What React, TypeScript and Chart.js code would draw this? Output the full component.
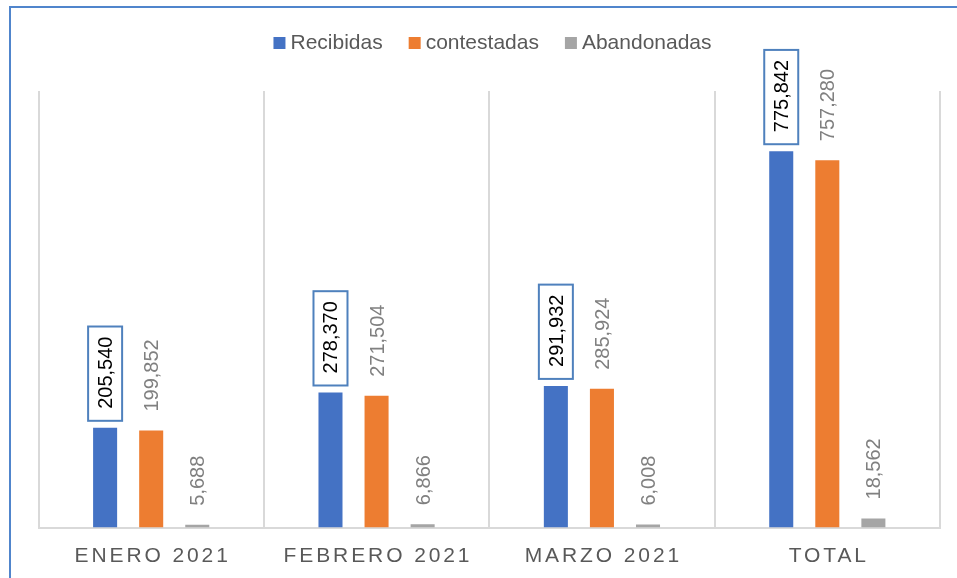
import React, { useEffect, useRef } from 'react';
import { Chart, registerables } from 'chart.js';

Chart.register(...registerables);

const categories = ['ENERO 2021', 'FEBRERO 2021', 'MARZO 2021', 'TOTAL'];
const seriesNames = ['Recibidas', 'contestadas', 'Abandonadas'];
const recibidas = [205540, 278370, 291932, 775842];
const contestadas = [199852, 271504, 285924, 757280];
const abandonadas = [5688, 6866, 6008, 18562];
const seriesColors = ['#4472C4', '#ED7D31', '#A5A5A5'];
const yMax = 900000;

const FONT = '"Liberation Sans", Arial, sans-serif';
const fmt = (v: number) => v.toLocaleString('en-US');

const tweaks = {
  id: 'tweaks',
  beforeLayout(chart: any) {
    const lg = chart.legend;
    if (lg && !lg.__patched) {
      lg.__patched = true;
      const origFit = lg.fit.bind(lg);
      lg.fit = function () {
        origFit();
        this.height = 90;
      };
      const origDraw = lg.draw.bind(lg);
      lg.draw = function (...args: any[]) {
        const ctx = this.ctx;
        ctx.save();
        ctx.translate(6, 0);
        origDraw(...args);
        ctx.restore();
      };
    }
  },
  afterDatasetsDraw(chart: any) {
    const ctx = chart.ctx;
    ctx.save();
    ctx.font = `20px ${FONT}`;
    chart.data.datasets.forEach((ds: any, di: number) => {
      const meta = chart.getDatasetMeta(di);
      meta.data.forEach((bar: any, i: number) => {
        const text = fmt(ds.data[i]);
        const L = ctx.measureText(text).width;
        const ty = bar.y - 19;
        if (di === 0) {
          ctx.save();
          ctx.fillStyle = '#FFFFFF';
          ctx.strokeStyle = '#4F81BD';
          ctx.lineWidth = 2;
          const top = ty - L - 10;
          const bottom = ty + 12;
          ctx.fillRect(bar.x - 17, top, 34, bottom - top);
          ctx.strokeRect(bar.x - 17, top, 34, bottom - top);
          ctx.restore();
        }
        ctx.save();
        ctx.translate(bar.x + 7, ty);
        ctx.rotate(-Math.PI / 2);
        ctx.fillStyle = di === 0 ? '#000000' : '#808080';
        ctx.textAlign = 'left';
        ctx.textBaseline = 'alphabetic';
        ctx.fillText(text, 0, 0);
        ctx.restore();
      });
    });
    ctx.restore();
  },
  afterDraw(chart: any) {
    const xs = chart.scales.x;
    const ctx = chart.ctx;
    ctx.save();
    ctx.font = `21px ${FONT}`;
    ctx.fillStyle = '#595959';
    ctx.textAlign = 'center';
    ctx.textBaseline = 'alphabetic';
    (ctx as any).letterSpacing = '2.9px';
    categories.forEach((c, i) => {
      const x = xs.getPixelForTick(i);
      ctx.fillText(c, x + 1.45, chart.chartArea.bottom + 34);
    });
    ctx.restore();
  },
};

export default function App() {
  const ref = useRef<HTMLCanvasElement | null>(null);

  useEffect(() => {
    if (!ref.current) return;
    Chart.defaults.font.family = FONT;
    const datasets = [recibidas, contestadas, abandonadas].map((d, i) => ({
      label: seriesNames[i],
      data: d,
      backgroundColor: seriesColors[i],
      borderWidth: 0,
      barPercentage: 0.5217,
      categoryPercentage: 0.6133,
    }));
    const chart = new Chart(ref.current, {
      type: 'bar',
      data: { labels: categories, datasets },
      options: {
        responsive: false,
        animation: false,
        events: [],
        layout: { padding: { left: 38.5, right: 17, top: 1, bottom: 0 } },
        plugins: {
          tooltip: { enabled: false },
          legend: {
            display: true,
            position: 'top',
            labels: {
              font: { size: 21, family: FONT },
              color: '#595959',
              boxWidth: 1,
              boxHeight: 12,
              usePointStyle: true,
              pointStyle: 'rect',
              padding: 31.5,
            },
          },
        },
        scales: {
          x: {
            offset: true,
            grid: {
              display: true,
              color: '#D9D9D9',
              lineWidth: 2,
              drawTicks: false,
              offset: true,
            },
            border: { display: true, color: '#D9D9D9', width: 2 },
            ticks: { color: 'rgba(0,0,0,0)', font: { size: 21 } },
            afterFit(scale: any) {
              scale.height = 50.5;
            },
          },
          y: {
            display: false,
            min: 0,
            max: yMax,
          },
        },
      },
      plugins: [tweaks],
    } as any);
    return () => chart.destroy();
  }, []);

  return (
    <div
      style={{
        position: 'fixed',
        left: 0,
        top: 0,
        width: 957,
        height: 578,
        background: '#FFFFFF',
        overflow: 'hidden',
      }}
    >
      <canvas ref={ref} width={957} height={578} style={{ display: 'block', width: 957, height: 578 }} />
      <div
        style={{
          position: 'absolute',
          left: 9,
          top: 6,
          right: -10,
          bottom: -10,
          borderLeft: '2px solid #5085CC',
          borderTop: '2px solid #5085CC',
          pointerEvents: 'none',
        }}
      />
    </div>
  );
}
